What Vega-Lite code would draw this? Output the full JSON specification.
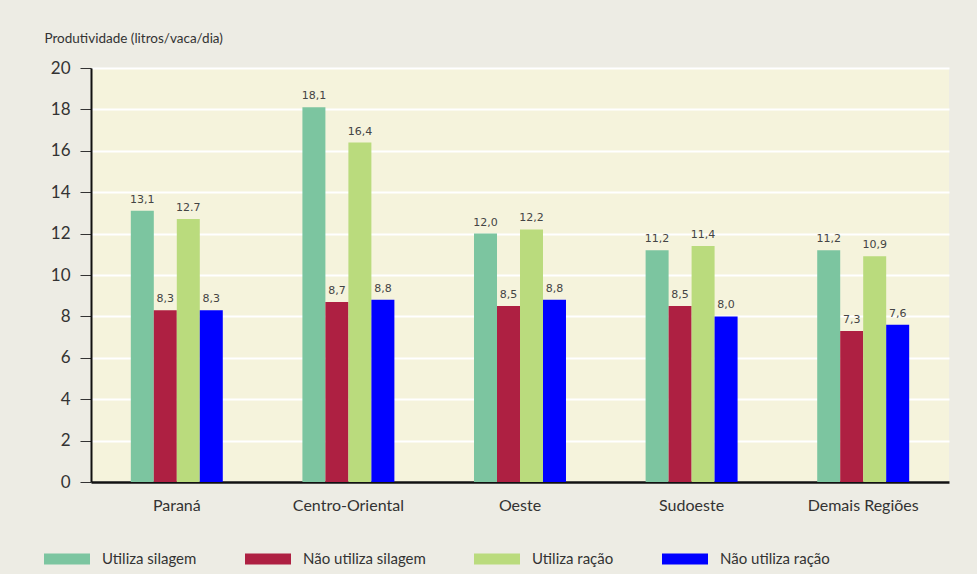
{
  "$schema": "https://vega.github.io/schema/vega-lite/v6.json",
  "width": 858,
  "height": 414,
  "autosize": {"type": "none"},
  "padding": {"left": 91, "top": 68, "right": 28, "bottom": 92},
  "background": "#edece4",
  "config": {
    "font": "Lato",
    "view": {"fill": "#f5f3dc", "stroke": null},
    "axis": {"labelColor": "#333333", "titleColor": "#333333", "labelFont": "Lato", "titleFont": "Lato"}
  },
  "data": {
    "values": [
      {"regiao": "Paraná", "serie": "Utiliza silagem", "valor": 13.1, "rotulo": "13,1"},
      {"regiao": "Paraná", "serie": "Não utiliza silagem", "valor": 8.3, "rotulo": "8,3"},
      {"regiao": "Paraná", "serie": "Utiliza ração", "valor": 12.7, "rotulo": "12.7"},
      {"regiao": "Paraná", "serie": "Não utiliza ração", "valor": 8.3, "rotulo": "8,3"},
      {"regiao": "Centro-Oriental", "serie": "Utiliza silagem", "valor": 18.1, "rotulo": "18,1"},
      {"regiao": "Centro-Oriental", "serie": "Não utiliza silagem", "valor": 8.7, "rotulo": "8,7"},
      {"regiao": "Centro-Oriental", "serie": "Utiliza ração", "valor": 16.4, "rotulo": "16,4"},
      {"regiao": "Centro-Oriental", "serie": "Não utiliza ração", "valor": 8.8, "rotulo": "8,8"},
      {"regiao": "Oeste", "serie": "Utiliza silagem", "valor": 12.0, "rotulo": "12,0"},
      {"regiao": "Oeste", "serie": "Não utiliza silagem", "valor": 8.5, "rotulo": "8,5"},
      {"regiao": "Oeste", "serie": "Utiliza ração", "valor": 12.2, "rotulo": "12,2"},
      {"regiao": "Oeste", "serie": "Não utiliza ração", "valor": 8.8, "rotulo": "8,8"},
      {"regiao": "Sudoeste", "serie": "Utiliza silagem", "valor": 11.2, "rotulo": "11,2"},
      {"regiao": "Sudoeste", "serie": "Não utiliza silagem", "valor": 8.5, "rotulo": "8,5"},
      {"regiao": "Sudoeste", "serie": "Utiliza ração", "valor": 11.4, "rotulo": "11,4"},
      {"regiao": "Sudoeste", "serie": "Não utiliza ração", "valor": 8.0, "rotulo": "8,0"},
      {"regiao": "Demais Regiões", "serie": "Utiliza silagem", "valor": 11.2, "rotulo": "11,2"},
      {"regiao": "Demais Regiões", "serie": "Não utiliza silagem", "valor": 7.3, "rotulo": "7,3"},
      {"regiao": "Demais Regiões", "serie": "Utiliza ração", "valor": 10.9, "rotulo": "10,9"},
      {"regiao": "Demais Regiões", "serie": "Não utiliza ração", "valor": 7.6, "rotulo": "7,6"}
    ]
  },
  "encoding": {
    "x": {
      "field": "regiao", "type": "nominal",
      "sort": ["Paraná", "Centro-Oriental", "Oeste", "Sudoeste", "Demais Regiões"],
      "scale": {"paddingInner": 0.464, "paddingOuter": 0.232},
      "axis": {"title": null, "labelAngle": 0, "ticks": false, "labelFontSize": 16, "labelPadding": 15, "domainColor": "#111111", "domainWidth": 2.5, "grid": false}
    },
    "xOffset": {
      "field": "serie", "type": "nominal",
      "sort": ["Utiliza silagem", "Não utiliza silagem", "Utiliza ração", "Não utiliza ração"],
      "scale": {"paddingInner": 0}
    },
    "y": {
      "field": "valor", "type": "quantitative",
      "scale": {"domain": [0, 20], "nice": false},
      "axis": {
        "title": "Produtividade (litros/vaca/dia)",
        "titleAngle": 0, "titleAlign": "left", "titleBaseline": "middle",
        "titleX": -47, "titleY": -30, "titleFontSize": 13.5, "titleFontWeight": "normal",
        "values": [0, 2, 4, 6, 8, 10, 12, 14, 16, 18, 20],
        "labelFontSize": 17, "labelPadding": 10, "tickSize": 11, "tickColor": "#333333",
        "domainColor": "#111111", "domainWidth": 2,
        "gridColor": "#ffffff", "gridWidth": 2, "gridOpacity": 1
      }
    }
  },
  "layer": [
    {
      "mark": {"type": "bar"},
      "encoding": {
        "color": {
          "field": "serie", "type": "nominal",
          "scale": {
            "domain": ["Utiliza silagem", "Não utiliza silagem", "Utiliza ração", "Não utiliza ração"],
            "range": ["#7cc5a0", "#ae2042", "#badb7d", "#0000ff"]
          },
          "legend": {
            "title": null, "orient": "none", "direction": "horizontal",
            "legendX": -47, "legendY": 468,
            "symbolType": "M-1,-0.24L1,-0.24L1,0.24L-1,0.24Z",
            "symbolSize": 2116, "symbolStrokeWidth": 0, "symbolOpacity": 1,
            "labelFontSize": 15, "labelColor": "#333333", "labelFont": "Lato",
            "labelOffset": 12, "columnPadding": 48, "labelLimit": 300, "padding": 0
          }
        }
      }
    },
    {
      "mark": {"type": "text", "baseline": "bottom", "dy": -6, "fontSize": 11, "color": "#444444", "font": "DejaVu Sans"},
      "encoding": {"text": {"field": "rotulo"}}
    }
  ]
}
